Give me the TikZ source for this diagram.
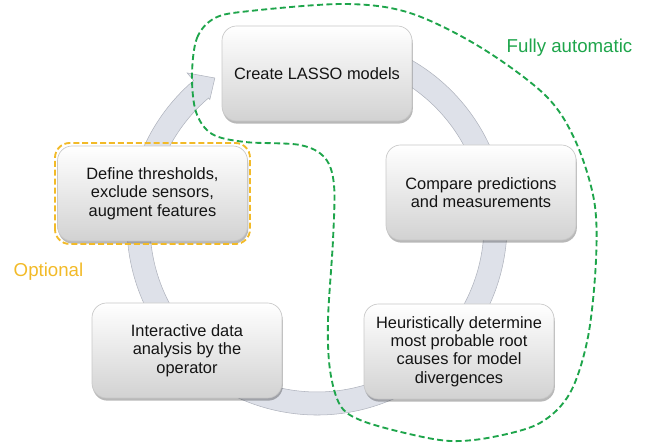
\documentclass[tikz,border=0pt]{standalone}
\usepackage{fontspec}
\setmainfont{Liberation Sans}
\usetikzlibrary{shadows}
\definecolor{autogreen}{RGB}{30,165,75}
\definecolor{optyellow}{RGB}{242,186,40}
\definecolor{ringfill}{RGB}{222,225,233}
\definecolor{ringline}{RGB}{175,179,189}
\definecolor{boxline}{RGB}{200,200,200}
\definecolor{boxbottom}{RGB}{210,210,210}
\definecolor{textcol}{RGB}{20,20,20}
\begin{document}
\begin{tikzpicture}[x=0.75pt,y=0.75pt,
  stepbox/.style={rounded corners=11pt, draw=boxline, line width=0.5pt,
    top color=white, middle color=white!96!gray, bottom color=boxbottom,
    minimum width=142.5pt, minimum height=71.25pt, inner sep=2pt,
    align=center, font=\fontsize{12.3}{13.8}\selectfont, text=textcol,
    drop shadow={shadow xshift=0.6pt, shadow yshift=-2pt, fill=black, opacity=0.28}},
  ring/.style={fill=ringfill, draw=ringline, line width=0.4pt},
  greendash/.style={draw=autogreen, line width=1.4pt, dash pattern=on 4.5pt off 2.5pt},
  yellowdash/.style={draw=optyellow, line width=1.4pt, dash pattern=on 4.5pt off 2.2pt, rounded corners=11pt},
  label/.style={font=\fontsize{14}{16}\selectfont, inner sep=0pt}
]
\useasboundingbox (0,0) rectangle (662,445);

% cycle ring with arrow head
\begin{scope}[shift={(317,220)}]
\path[ring] (80:190) arc[start angle=80, end angle=-229.5, radius=190]
  -- (-229.5:200) -- (-235.2:179) -- (-229.5:165) -- (-229.5:167)
  arc[start angle=-229.5, end angle=80, radius=167] -- cycle;
\end{scope}

% boxes
\node[stepbox] (create) at (317,371.5) {Create LASSO models};
\node[stepbox] (compare) at (481,252.5) {Compare predictions\\and measurements};
\node[stepbox] (heur) at (459,93.5) {Heuristically determine\\most probable root\\causes for model\\divergences};
\node[stepbox] (inter) at (187,94.5) {Interactive data\\analysis by the\\operator};
\node[stepbox] (define) at (152.5,251.5) {Define thresholds,\\exclude sensors,\\augment features};

% optional frame
\draw[yellowdash] (55,201) rectangle (250,302);

% fully automatic region
\draw[greendash] plot[smooth cycle, tension=0.55] coordinates {
 (192,370) (197,407) (215,427) (250,434) (345,441) (410,432) (480,398)
 (545,350) (575,305) (594,245) (596,185) (588,108) (570,52) (540,22)
 (493,8) (450,4) (405,12) (360,25) (340,40) (330,75) (328,125)
 (333,205) (334,260) (325,287) (300,300) (245,303) (212,311) (196,333)};

% labels
\node[label, text=autogreen, anchor=base] (fullyauto) at (569.5,392) {Fully automatic};
\node[label, text=optyellow, anchor=base] (optional) at (48.5,168) {Optional};
\end{tikzpicture}
\end{document}
